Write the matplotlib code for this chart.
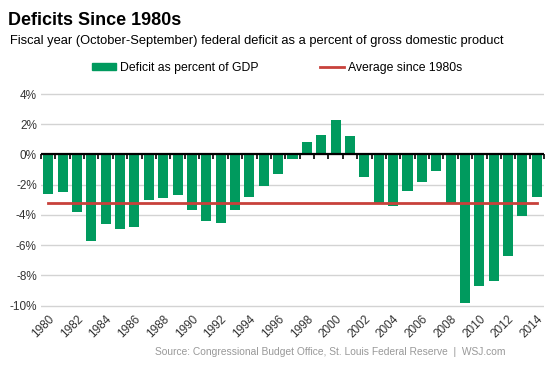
import matplotlib
matplotlib.use("Agg")
import matplotlib.pyplot as plt
import matplotlib.patches as mpatches
import matplotlib.lines as mlines
import numpy as np

# fiscal years and deficit as percent of GDP
years = list(range(1980, 2015))
deficit = [-2.6, -2.5, -3.8, -5.7, -4.6, -4.9, -4.8, -3.0, -2.9, -2.7,
           -3.7, -4.4, -4.5, -3.7, -2.8, -2.1, -1.3, -0.3, 0.8, 1.3,
           2.3, 1.2, -1.5, -3.2, -3.4, -2.4, -1.8, -1.1, -3.2, -9.8,
           -8.7, -8.4, -6.7, -4.1, -2.8]
average = -3.2
yticks = [4, 2, 0, -2, -4, -6, -8, -10]
xlabels = [str(y) for y in years[::2]]

GREEN = "#009A5E"
RED = "#C8413B"
GRID = "#D3D3D3"
TEXT = "#333333"

plt.rcParams["font.family"] = ["Liberation Sans", "DejaVu Sans"]

fig = plt.figure(figsize=(5.57, 3.71), dpi=100)
ax = fig.add_axes([0.0736, 0.1639, 0.9031, 0.5949])

x = np.arange(len(years))
ax.bar(x, deficit, width=0.7, color=GREEN, zorder=2)
ax.axhline(0, color="black", lw=1.6, zorder=3)
# small tick marks between bars on the zero line
bounds = np.arange(len(years) + 1) - 0.5
ax.plot(bounds, np.zeros_like(bounds), ls="none", marker=3, ms=3.5,
        mew=1.2, color="black", zorder=3, clip_on=False)
ax.plot([x[0], x[-1]], [average, average], color=RED, lw=2, zorder=4)

ax.set_xlim(-0.5, len(years) - 0.5)
ax.set_ylim(-10.3, 4.3)
ax.set_yticks(yticks)
ax.set_yticklabels([f"{t}%" for t in yticks], color=TEXT, fontsize=8.5)
ax.yaxis.grid(True, color=GRID, lw=1, zorder=0)
ax.set_axisbelow(True)
ax.set_xticks(x[::2])
ax.set_xticklabels(xlabels, rotation=45, ha="right", rotation_mode="anchor",
                   color=TEXT, fontsize=8.5)
ax.tick_params(axis="both", length=0)
ax.tick_params(axis="x", pad=2)
ax.tick_params(axis="y", pad=3)
for s in ax.spines.values():
    s.set_visible(False)

fig.text(0.014, 0.946, "Deficits Since 1980s", fontsize=13, fontweight="bold",
         va="center", ha="left", color="black")
fig.text(0.018, 0.889, "Fiscal year (October-September) federal deficit as a "
         "percent of gross domestic product", fontsize=9.3, va="center",
         ha="left", color="black")

handles = [mpatches.Patch(color=GREEN, label="Deficit as percent of GDP"),
           mlines.Line2D([], [], color=RED, lw=2, label="Average since 1980s")]
fig.legend(handles=handles, loc="center", bbox_to_anchor=(0.497, 0.817),
           ncol=2, frameon=False, fontsize=8.8, handlelength=2.0,
           handleheight=0.6, handletextpad=0.3, columnspacing=5.0)

fig.text(0.907, 0.051, "Source: Congressional Budget Office, St. Louis Federal "
         "Reserve  |  WSJ.com", fontsize=7.4, color="#999999", ha="right",
         va="center")

fig.savefig("out.png", dpi=100)
